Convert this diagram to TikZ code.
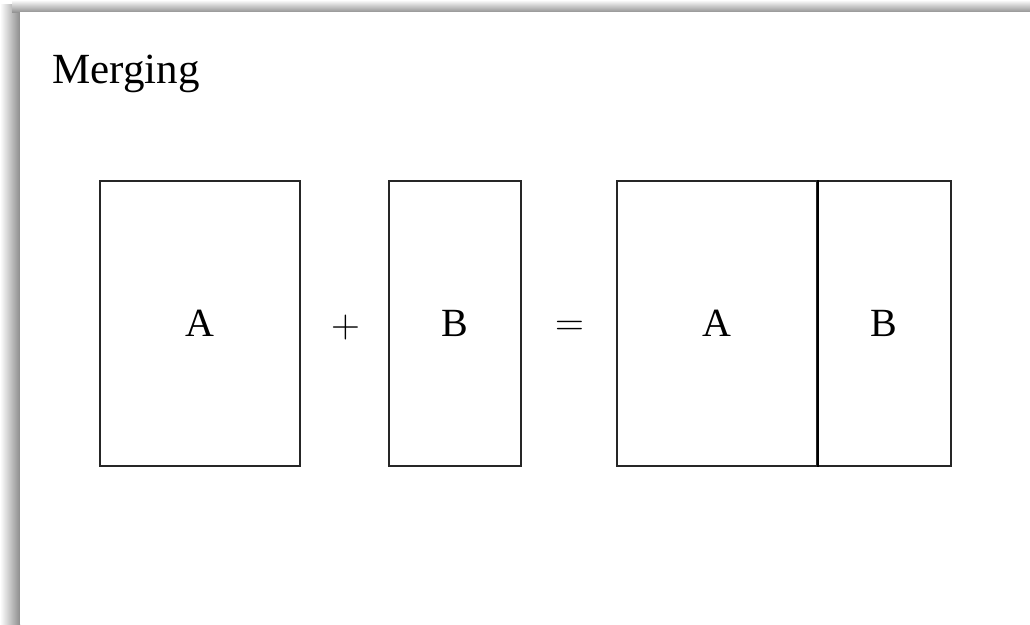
\documentclass[tikz,border=0pt]{standalone}
\usepackage{fontspec}
\setmainfont{Liberation Serif}
\newfontfamily\lmfont{Latin Modern Roman}
\begin{document}
\begin{tikzpicture}[x=1pt,y=1pt,
  blk/.style={draw=black!85, line width=1.6pt, inner sep=0pt, minimum height=285pt,
    font=\fontsize{40}{48}\selectfont},
  op/.style={inner sep=0pt, font=\lmfont\fontsize{40}{48}\selectfont}]
\useasboundingbox (0,0) rectangle (1030,-624);
\fill[white] (0,0) rectangle (1030,-624);
% shadow frame
\shade[left color=white, right color=black!45] (0,-4) rectangle (20,-624);
\shade[top color=white, bottom color=black!42] (12,0) rectangle (1030,-12);
\fill[white] (20,-12) rectangle (1030,-624);
% title
\node[anchor=base west, inner sep=0pt, font=\fontsize{43}{50}\selectfont] (title) at (52,-83) {Merging};
% blocks
\node[blk, minimum width=200pt] (a1) at (200,-323.5) {A};
\node[op] (plus) at (345.5,-328) {+};
\node[blk, minimum width=132pt] (b1) at (455,-323.5) {B};
\node[op] (eq) at (570,-328) {=};
\node[blk, minimum width=200pt] (a2) at (717,-323.5) {A};
\node[blk, minimum width=134pt] (b2) at (884,-323.5) {B};
\draw[line width=2.6pt] (a2.north east) -- (a2.south east);
\end{tikzpicture}
\end{document}
